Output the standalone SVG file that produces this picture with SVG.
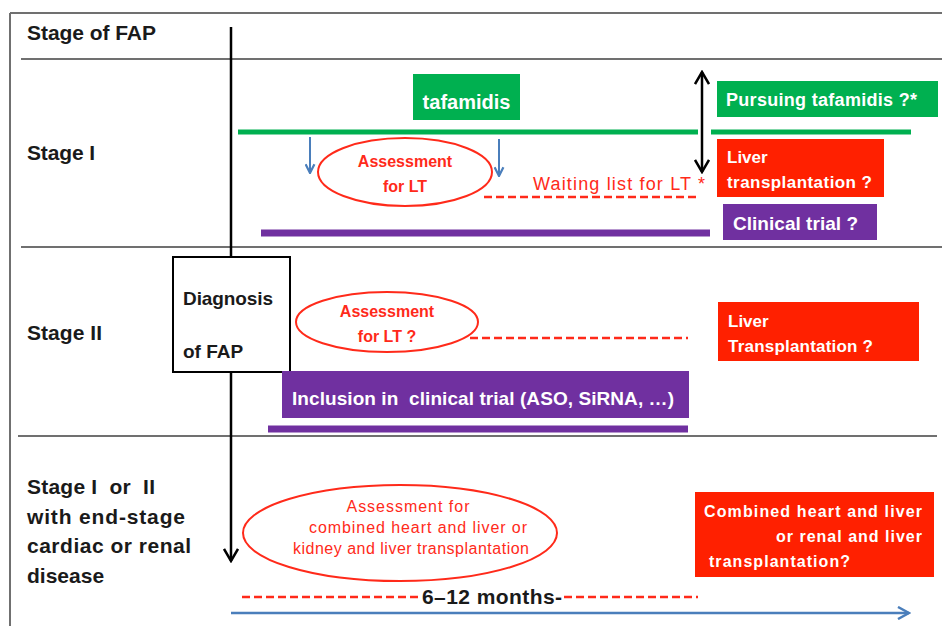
<svg xmlns="http://www.w3.org/2000/svg" width="942" height="626" viewBox="0 0 942 626">
<style>
text{font-family:"Liberation Sans",Arial,sans-serif}
.lbl{font-size:21px;font-weight:bold;fill:#1a1a1a}
.wt{font-weight:bold;fill:#ffffff}
.rt{font-weight:bold;fill:#ff2a1a;font-size:16px}
.rr{fill:#ff2a1a}
.grid{stroke:#707070;stroke-width:2;fill:none}
.ell{fill:#ffffff;stroke:#ff2a1a;stroke-width:2}
.green{fill:#00b050}
.red{fill:#ff2000}
.purple{fill:#7030a0}
.dash{stroke:#ff2a1a;stroke-width:2.5;stroke-dasharray:8,4;fill:none}
</style>
<defs>
<marker id="chevK" viewBox="0 0 16 16" refX="14" refY="8" markerWidth="16" markerHeight="16" markerUnits="userSpaceOnUse" orient="auto-start-reverse">
<path d="M2,1 L14,8 L2,15" fill="none" stroke="#000" stroke-width="2.5"/>
</marker>
<marker id="chevB" viewBox="0 0 14 14" refX="12" refY="7" markerWidth="14" markerHeight="14" markerUnits="userSpaceOnUse" orient="auto">
<path d="M1,1 L12,7 L1,13" fill="none" stroke="#4a7ebb" stroke-width="2.5"/>
</marker>
<marker id="chevS" viewBox="0 0 10 10" refX="9" refY="5" markerWidth="11" markerHeight="11" markerUnits="userSpaceOnUse" orient="auto">
<path d="M1,1 L9,5 L1,9" fill="none" stroke="#4a7ebb" stroke-width="2"/>
</marker>
</defs>
<rect width="942" height="626" fill="#ffffff"/>

<g id="grid">
<line class="grid" x1="10" y1="13" x2="942" y2="13"/>
<line class="grid" x1="10" y1="13" x2="10" y2="626"/>
<line class="grid" x1="21" y1="59" x2="942" y2="59"/>
<line class="grid" x1="21" y1="247" x2="942" y2="247" stroke="#505050"/>
<line class="grid" x1="18" y1="436" x2="937" y2="436" stroke="#aaaaaa"/>
</g>

<g id="stage-labels">
<text class="lbl" x="27" y="40" textLength="129">Stage of FAP</text>
<text class="lbl" x="27" y="160" textLength="68">Stage I</text>
<text class="lbl" x="27" y="340" textLength="75">Stage II</text>
<text class="lbl" x="27" y="494" xml:space="preserve" textLength="128">Stage I  or  II</text>
<text class="lbl" x="27" y="524" textLength="158">with end-stage</text>
<text class="lbl" x="27" y="553" textLength="164">cardiac or renal</text>
<text class="lbl" x="27" y="583">disease</text>
</g>

<g id="connectors">
<line x1="231" y1="27" x2="231" y2="561" stroke="#000" stroke-width="2.5" marker-end="url(#chevK)"/>
<line x1="702" y1="72" x2="702" y2="172" stroke="#000" stroke-width="2.5" marker-start="url(#chevK)" marker-end="url(#chevK)"/>
<line x1="310" y1="137" x2="310" y2="173" stroke="#4a7ebb" stroke-width="2" marker-end="url(#chevS)"/>
<line x1="499" y1="139" x2="499" y2="176" stroke="#4a7ebb" stroke-width="2" marker-end="url(#chevS)"/>
<line class="dash" x1="484" y1="197" x2="700" y2="197"/>
<line class="dash" x1="470" y1="338" x2="688" y2="338"/>
<line class="dash" x1="242" y1="597" x2="420" y2="597" stroke-dasharray="6,3"/>
<line class="dash" x1="564" y1="597" x2="698" y2="597" stroke-dasharray="6,3"/>
<line x1="231" y1="613" x2="909" y2="613" stroke="#4a7ebb" stroke-width="2.5" marker-end="url(#chevB)"/>
<rect class="green" x="238" y="129.5" width="460" height="5"/>
<rect class="green" x="711" y="129.5" width="200" height="5"/>
<rect class="purple" x="261" y="229.5" width="449" height="7"/>
<rect class="purple" x="268" y="425.5" width="420" height="7"/>
</g>

<g id="tafamidis">
<rect class="green" x="413" y="74" width="107" height="46"/>
<text class="wt" x="466.5" y="109" font-size="20" text-anchor="middle">tafamidis</text>
</g>

<g id="pursuing-tafamidis">
<rect class="green" x="717" y="81" width="221" height="36"/>
<text class="wt" x="726" y="106" font-size="18" textLength="191">Pursuing tafamidis ?*</text>
</g>

<g id="assessment-lt-1">
<ellipse class="ell" cx="405" cy="172" rx="87" ry="34"/>
<text class="rt" x="405" y="167" text-anchor="middle">Assessment</text>
<text class="rt" x="405" y="192" text-anchor="middle">for LT</text>
</g>

<g id="waiting-list">
<text class="rr" x="533" y="190" font-size="18" textLength="172">Waiting list for LT *</text>
</g>

<g id="liver-transplantation-1">
<rect class="red" x="717" y="139" width="167" height="58"/>
<text class="wt" x="727" y="163" font-size="17">Liver</text>
<text class="wt" x="727" y="188" font-size="17" textLength="145">transplantation ?</text>
</g>

<g id="clinical-trial">
<rect class="purple" x="723" y="204" width="154" height="36"/>
<text class="wt" x="733" y="230" font-size="19" textLength="125">Clinical trial ?</text>
</g>

<g id="diagnosis">
<rect x="173" y="257" width="117" height="115" fill="#ffffff" stroke="#000" stroke-width="2"/>
<text x="183" y="305" font-size="19" font-weight="bold" fill="#1a1a1a" textLength="90">Diagnosis</text>
<text x="183" y="358" font-size="19" font-weight="bold" fill="#1a1a1a">of FAP</text>
</g>

<g id="assessment-lt-2">
<ellipse class="ell" cx="387" cy="322" rx="91" ry="30"/>
<text class="rt" x="387" y="317" text-anchor="middle">Assessment</text>
<text class="rt" x="387" y="342" text-anchor="middle">for LT ?</text>
</g>

<g id="liver-transplantation-2">
<rect class="red" x="718" y="302" width="201" height="59"/>
<text class="wt" x="728" y="327" font-size="17">Liver</text>
<text class="wt" x="728" y="352" font-size="17" textLength="145">Transplantation ?</text>
</g>

<g id="inclusion-trial">
<rect class="purple" x="282" y="371" width="407" height="47"/>
<text class="wt" x="292" y="405" font-size="19" xml:space="preserve" textLength="382">Inclusion in  clinical trial (ASO, SiRNA, …)</text>
</g>

<g id="assessment-combined">
<ellipse class="ell" cx="400" cy="533" rx="157" ry="48"/>
<text class="rr" x="408" y="512" font-size="16" text-anchor="middle" textLength="123">Assessment for</text>
<text class="rr" x="418" y="533" font-size="16" text-anchor="middle" textLength="218">combined heart and liver or</text>
<text class="rr" x="411" y="554" font-size="16" text-anchor="middle" textLength="236">kidney and liver transplantation</text>
</g>

<g id="combined-transplantation">
<rect class="red" x="695" y="492" width="239" height="85"/>
<text class="wt" x="704" y="517" font-size="16" textLength="218">Combined heart and liver</text>
<text class="wt" x="922" y="542" font-size="16" text-anchor="end" textLength="146">or renal and liver</text>
<text class="wt" x="709" y="567" font-size="16" textLength="141">transplantation?</text>
</g>

<g id="duration">
<text x="422" y="604" font-size="21" font-weight="bold" fill="#1a1a1a" textLength="140">6–12 months-</text>
</g>
</svg>
